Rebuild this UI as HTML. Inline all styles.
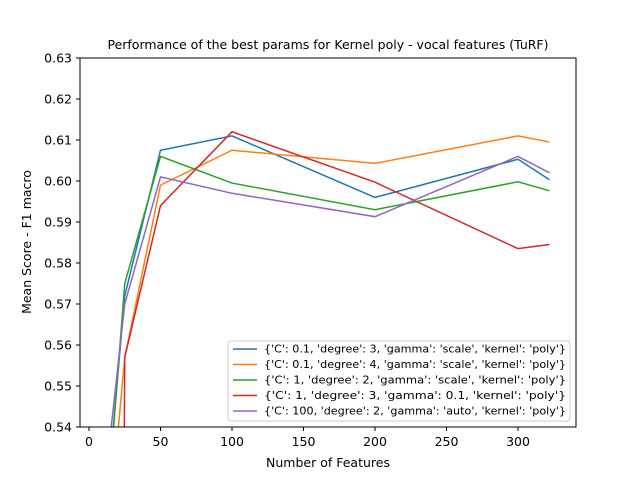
<!DOCTYPE html>
<html><head><meta charset="utf-8"><style>
html,body{margin:0;padding:0;background:#fff;width:640px;height:480px;overflow:hidden;}
svg{display:block;}
svg text{font-family:"DejaVu Sans","Liberation Sans",sans-serif;fill:#000;}
</style></head><body>
<svg width="640" height="480" viewBox="0 0 640 480" xmlns="http://www.w3.org/2000/svg">
<defs><clipPath id="pc"><rect x="80" y="58" width="496" height="369"/></clipPath></defs>
<rect width="640" height="480" fill="#fff"/>
<text x="328" y="49" text-anchor="middle" font-size="12.5">Performance of the best params for Kernel poly -  vocal features (TuRF)</text>
<g id="ticks"></g>
<g id="lines" clip-path="url(#pc)"></g>
<rect x="80" y="58" width="496" height="369" fill="none" stroke="#000" stroke-width="1"/>
<text x="328" y="467" text-anchor="middle" font-size="12.5">Number of Features</text>
<text transform="translate(31,242) rotate(-90)" text-anchor="middle" font-size="12.5">Mean Score - F1 macro</text>
<g id="legend"></g>
</svg>
<script>
const xTicks=[0,50,100,150,200,250,300];
const yTicks=[0.54,0.55,0.56,0.57,0.58,0.59,0.60,0.61,0.62,0.63];
const seriesLabels=["{'C': 0.1, 'degree': 3, 'gamma': 'scale', 'kernel': 'poly'}","{'C': 0.1, 'degree': 4, 'gamma': 'scale', 'kernel': 'poly'}","{'C': 1, 'degree': 2, 'gamma': 'scale', 'kernel': 'poly'}","{'C': 1, 'degree': 3, 'gamma': 0.1, 'kernel': 'poly'}","{'C': 100, 'degree': 2, 'gamma': 'auto', 'kernel': 'poly'}"];
const colors=["#1f77b4","#ff7f0e","#2ca02c","#d62728","#9467bd"];
const xBlue=[15,25,50,100,200,300,322];
const yBlue=[0.532,0.572,0.6075,0.611,0.596,0.6053,0.6003];
const xOrange=[18,25,50,100,200,300,322];
const yOrange=[0.53,0.557,0.599,0.6075,0.6043,0.611,0.6095];
const xGreen=[15,25,50,100,200,300,322];
const yGreen=[0.53,0.575,0.606,0.5995,0.593,0.5998,0.5976];
const xRed=[24,25,50,100,200,300,322];
const yRed=[0.50,0.557,0.594,0.612,0.5997,0.5835,0.5845];
const xPurple=[13,25,50,100,200,300,322];
const yPurple=[0.532,0.570,0.601,0.597,0.5913,0.606,0.602];
const xs=[xBlue,xOrange,xGreen,xRed,xPurple];
const ys=[yBlue,yOrange,yGreen,yRed,yPurple];
const NS="http://www.w3.org/2000/svg";
const sx=v=>89+v*1.43;
const sy=v=>58+(0.63-v)*4100;
function mk(t,a,p){const e=document.createElementNS(NS,t);for(const k in a)e.setAttribute(k,a[k]);p.appendChild(e);return e;}
const tg=document.getElementById('ticks');
xTicks.forEach(v=>{const x=sx(v);
 const l=mk('line',{x1:x,x2:x,y1:427,y2:431,stroke:'#000'},tg);
 
 
 const t=mk('text',{x:x,y:446,'text-anchor':'middle','font-size':'12.5'},tg);t.textContent=v;
 
 });
yTicks.forEach(v=>{const y=sy(v);
 const l=mk('line',{x1:76,x2:80,y1:y,y2:y,stroke:'#000'},tg);
 
 
 const t=mk('text',{x:72,y:y+4.5,'text-anchor':'end','font-size':'12.5'},tg);t.textContent=v.toFixed(2);
 
 });
const lg=document.getElementById('lines');
xs.forEach((xa,i)=>{const pts=xa.map((x,j)=>sx(x)+','+sy(ys[i][j])).join(' ');
 const p=mk('polyline',{points:pts,fill:'none',stroke:colors[i],'stroke-width':1.5},lg);
 
 });
const leg=document.getElementById('legend');
const box=mk('rect',{x:228,y:341,width:342,height:80,rx:3,fill:'#fff','fill-opacity':0.8,stroke:'#ccc'},leg);


seriesLabels.forEach((s,i)=>{const y=349+i*15.5;
 const l=mk('line',{x1:233,x2:257,y1:y,y2:y,stroke:colors[i],'stroke-width':1.5},leg);
 
 
 const t=mk('text',{x:264,y:y+3.5,'font-size':'10.5','textLength':302,'lengthAdjust':'spacingAndGlyphs'},leg);t.textContent=s;
 
 });
</script>
</body></html>
